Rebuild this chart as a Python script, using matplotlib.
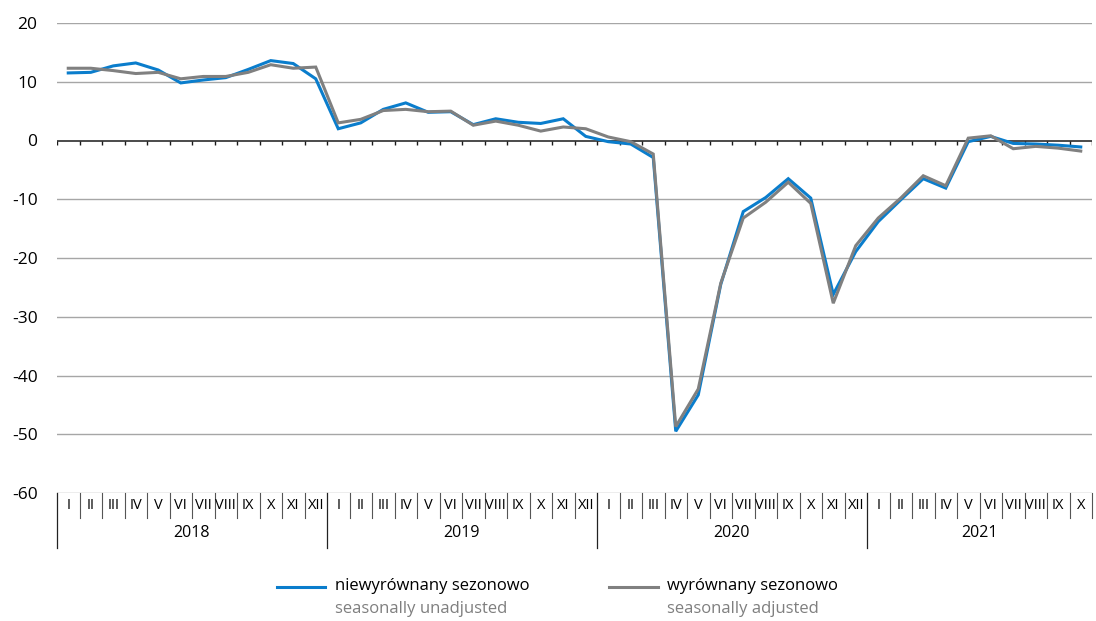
import matplotlib.pyplot as plt
from matplotlib.lines import Line2D
import matplotlib.transforms as mtransforms

plt.rcParams['font.family'] = ['Open Sans', 'DejaVu Sans']
plt.rcParams['axes.unicode_minus'] = False

months = ["I", "II", "III", "IV", "V", "VI", "VII", "VIII", "IX", "X", "XI", "XII"]
years = ["2018", "2019", "2020", "2021"]
months_per_year = [12, 12, 12, 10]

unadjusted = [
    11.5, 11.6, 12.7, 13.2, 12.0, 9.8, 10.3, 10.7, 12.1, 13.6, 13.1, 10.5,
    2.0, 3.0, 5.3, 6.4, 4.8, 4.9, 2.7, 3.7, 3.1, 2.9, 3.7, 0.7,
    -0.2, -0.6, -2.9, -49.5, -43.3, -24.5, -12.1, -9.7, -6.5, -9.8, -26.2, -18.9,
    -13.8, -10.1, -6.5, -8.1, -0.2, 0.7, -0.5, -0.6, -0.8, -1.1,
]
adjusted = [
    12.3, 12.3, 11.9, 11.4, 11.6, 10.5, 10.9, 10.9, 11.6, 12.9, 12.3, 12.5,
    3.0, 3.6, 5.1, 5.3, 4.9, 5.0, 2.6, 3.3, 2.6, 1.6, 2.3, 2.0,
    0.6, -0.2, -2.3, -48.7, -42.3, -24.3, -13.2, -10.5, -7.1, -10.7, -27.7, -17.9,
    -13.2, -9.8, -6.0, -7.7, 0.4, 0.8, -1.4, -1.0, -1.3, -1.8,
]

labels = ["niewyrównany sezonowo", "wyrównany sezonowo"]
labels_en = ["seasonally unadjusted", "seasonally adjusted"]
blue = "#0a7dcc"
grey = "#808080"

fig = plt.figure(figsize=(10.96, 6.21), dpi=100)
ax = fig.add_axes([57 / 1096, 128 / 621, 1035 / 1096, 470 / 621])

n = len(unadjusted)
x = list(range(n))

for v in [20, 10, -10, -20, -30, -40, -50, -60]:
    ax.axhline(v, color="#a6a6a6", lw=1.0, zorder=1)

ax.plot(x, unadjusted, color=blue, lw=2.2, zorder=3, solid_joinstyle="miter")
ax.plot(x, adjusted, color=grey, lw=2.2, zorder=4, solid_joinstyle="miter")

# zero axis with tick marks
ax.axhline(0, color="#1a1a1a", lw=1.1, zorder=2)
ax.vlines([i - 0.5 for i in range(n + 1)], -0.85, 0, color="#1a1a1a", lw=1.0, zorder=2)

ax.set_xlim(-0.5, n - 0.5)
ax.set_ylim(-60, 20)
ax.set_yticks(range(-60, 21, 10))
ax.tick_params(axis="y", length=0, pad=14, labelsize=12.5)
ax.set_xticks([])
for s in ax.spines.values():
    s.set_visible(False)

# category table below the plot
trans = mtransforms.blended_transform_factory(ax.transData, ax.transAxes)
row1 = -25 / 470
row2 = -55 / 470
pos = 0
for yi, (yr, cnt) in enumerate(zip(years, months_per_year)):
    for m in range(cnt):
        i = pos + m
        ax.text(i, row1 / 2, months[m], transform=trans, ha="center", va="center",
                fontsize=10.5)
        if m > 0:
            ax.plot([i - 0.5, i - 0.5], [0, row1], transform=trans, color="#555555",
                    lw=0.8, clip_on=False)
    ax.plot([pos - 0.5, pos - 0.5], [0, row2], transform=trans, color="#222222",
            lw=0.9, clip_on=False)
    ax.text(pos + cnt / 2 - 0.5, (row1 + row2) / 2, yr, transform=trans,
            ha="center", va="center", fontsize=11.5)
    pos += cnt
ax.plot([pos - 0.5, pos - 0.5], [0, row1], transform=trans, color="#555555",
        lw=0.8, clip_on=False)

# legend
for (x0, x1, tx), col, lab, lab_en in zip([(277, 325, 335), (609, 658, 667)],
                                         [blue, grey], labels, labels_en):
    fig.add_artist(Line2D([x0 / 1096, x1 / 1096], [34 / 621, 34 / 621],
                          color=col, lw=2.2))
    fig.text(tx / 1096, 35 / 621, lab, ha="left", va="center", fontsize=12)
    fig.text(tx / 1096, 12 / 621, lab_en, ha="left", va="center", fontsize=12,
             color="#7f7f7f")

fig.savefig("out.png", dpi=100)
